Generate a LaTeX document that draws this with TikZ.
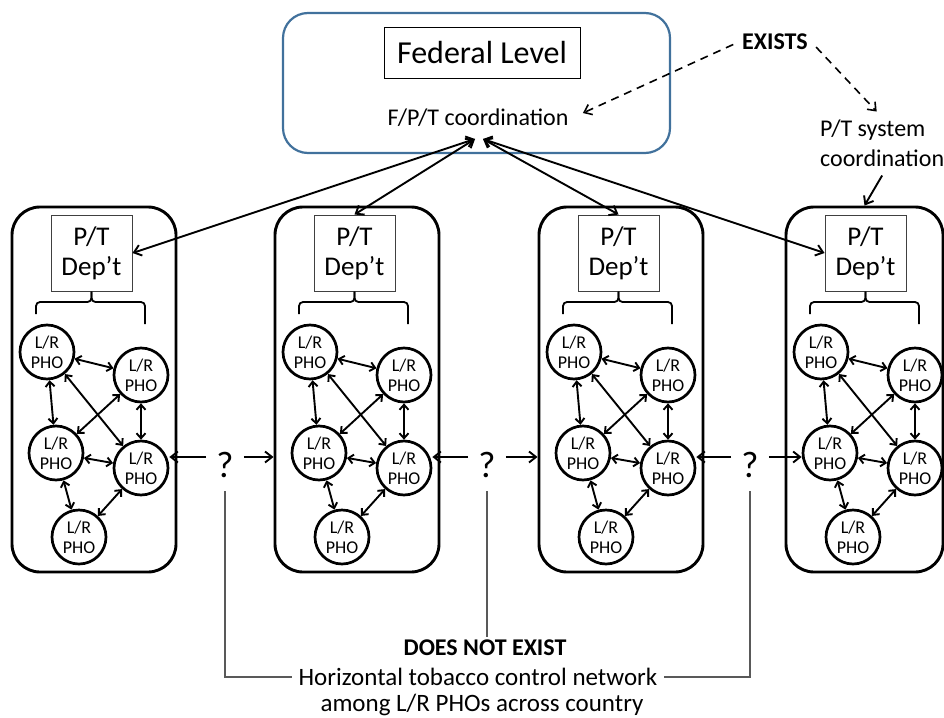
\documentclass[tikz,border=0pt]{standalone}
\usepackage{fontspec}
\setmainfont{Carlito}
\usetikzlibrary{arrows.meta}

\definecolor{fedblue}{RGB}{65,113,156}

\tikzset{
  panelbox/.style={draw, line width=2.9pt, rounded corners=28pt, minimum height=365pt, inner sep=0pt},
  deptbox/.style={draw=black!75, line width=1pt, minimum width=81pt, minimum height=76pt, inner sep=0pt,
    align=center, font=\fontsize{27}{30}\selectfont},
  pho/.style={circle, draw, line width=2.7pt, minimum size=54pt, inner sep=0pt, align=center,
    font=\fontsize{18}{20}\selectfont},
  bracket/.style={line width=1.8pt, rounded corners=4pt},
  linkarr/.style={line width=1.9pt, {Straight Barb[length=5pt,width=9pt]}-{Straight Barb[length=5pt,width=9pt]}},
  fedarr/.style={line width=1.9pt, {Straight Barb[length=7pt,width=11pt]}-{Straight Barb[length=7pt,width=11pt]}},
  onearr/.style={line width=1.9pt, -{Straight Barb[length=7pt,width=11pt]}},
  dasharr/.style={line width=1.6pt, dash pattern=on 8pt off 6pt, -{Straight Barb[length=7pt,width=11pt]}},
  leader/.style={draw=black!65, line width=1.1pt},
  qmark/.style={font=\fontsize{37}{40}\selectfont, text height=40pt, text depth=0pt, inner xsep=10pt, inner ysep=0pt},
  txt/.style={font=\fontsize{24}{30}\selectfont},
  boldtxt/.style={font=\bfseries\fontsize{24}{30}\selectfont},
}

% one provincial/territorial panel: name, left edge, width
\newcommand\phopanel[3]{%
  \node[panelbox, minimum width=#3pt] (#1) at ({#2+#3/2},389.5) {};
  \node[deptbox] (#1box) at ({#2+79.5},253) {P/T\\Dep’t};
  \draw[bracket] ({#2+24},314) -- ({#2+24},302) -- ({#2+79.5},302) -- (#1box.south);
  \draw[bracket] ({#2+133},324) -- ({#2+133},302) -- ({#2+79.5},302) -- (#1box.south);
  \node[pho] (#1c1) at ({#2+35},352) {L/R\\PHO};
  \node[pho] (#1c2) at ({#2+129},375) {L/R\\PHO};
  \node[pho] (#1c3) at ({#2+44},453) {L/R\\PHO};
  \node[pho] (#1c4) at ({#2+129},468) {L/R\\PHO};
  \node[pho] (#1c5) at ({#2+67},537) {L/R\\PHO};
  \draw[linkarr] (#1c1) -- (#1c2);
  \draw[linkarr] (#1c1) -- (#1c3);
  \draw[linkarr] (#1c1) -- (#1c4);
  \draw[linkarr] (#1c2) -- (#1c3);
  \draw[linkarr] (#1c2) -- (#1c4);
  \draw[linkarr] (#1c3) -- (#1c4);
  \draw[linkarr] (#1c3) -- (#1c5);
  \draw[linkarr] (#1c4) -- (#1c5);
}

\begin{document}
\begin{tikzpicture}[x=1pt,y=-1pt]
\useasboundingbox (0,0) rectangle (944,717);
\clip (0,0) rectangle (944,717);

% federal level
\node[draw=fedblue, line width=2.2pt, rounded corners=25pt, minimum width=387pt, minimum height=140pt] (fed) at (476.5,83) {};
\node[draw, line width=1pt, minimum width=196pt, minimum height=50pt, font=\fontsize{32}{36}\selectfont] (fedlvl) at (482,53) {Federal Level};
\node[txt] (fpt) at (478,118) {F/P/T coordination};
\coordinate (hubl) at (475,139);
\coordinate (hubr) at (483,139);

% provinces and territories
\phopanel{p1}{12}{164}
\phopanel{p2}{275}{164}
\phopanel{p3}{539}{164}
\phopanel{p4}{786}{157}

% vertical links
\draw[fedarr] (hubl) -- (p1box.east);
\draw[fedarr] (hubl) -- (p2box.north);
\draw[fedarr] (hubr) -- (p3box.north);
\draw[fedarr] (hubr) -- (p4box.west);

% what exists
\node[boldtxt] (exists) at (775,42) {EXISTS};
\node[txt, align=left, anchor=west, inner sep=2pt] (ptsys) at (818,143) {P/T system\\coordination};
\draw[dasharr, shorten <=6pt, shorten >=12pt] (exists.west) -- (fpt.east);
\draw[dasharr, shorten <=7pt, shorten >=8pt] (exists.east) -- (ptsys.north);
\draw[onearr, shorten <=8pt] ([xshift=4pt]ptsys.south) -- (p4.north);

% horizontal links
\node[qmark] (q1) at (225,457) {?};
\node[qmark] (q2) at (487,457) {?};
\node[qmark] (q3) at (750,457) {?};
\draw[onearr] (q1.west) -- (q1.west -| p1c4.east);
\draw[onearr] (q1.east) -- (q1.east -| p2.west);
\draw[onearr] (q2.west) -- (q2.west -| p2c4.east);
\draw[onearr] (q2.east) -- (q2.east -| p3.west);
\draw[onearr] (q3.west) -- (q3.west -| p3c4.east);
\draw[onearr] (q3.east) -- (q3.east -| p4c3.west);

% what does not exist
\node[boldtxt] (dne) at (485,648) {DOES NOT EXIST};
\node[txt, font=\fontsize{25}{30}\selectfont, inner xsep=6pt] (net) at (478,677) {Horizontal tobacco control network};
\node[txt, font=\fontsize{25}{30}\selectfont] (among) at (482,705) {among L/R PHOs across country};
\draw[leader, shorten <=14pt] (q1.south) |- (net.west);
\draw[leader, shorten <=14pt] (q3.south) |- (net.east);
\draw[leader, shorten <=14pt] (q2.south) -- (q2.south |- dne.north);
\end{tikzpicture}
\end{document}
